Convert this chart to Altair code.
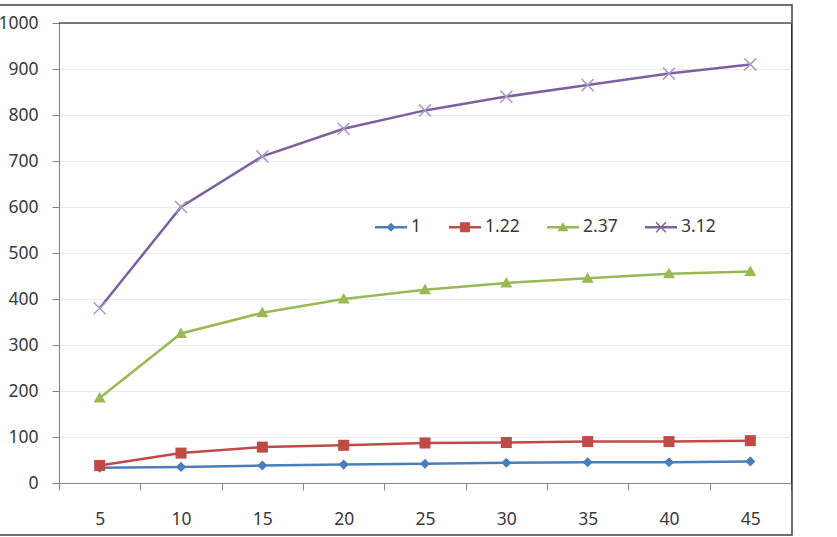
import altair as alt
import pandas as pd

x_vals = [5, 10, 15, 20, 25, 30, 35, 40, 45]
series_names = ["1", "1.22", "2.37", "3.12"]
s_1 = [33, 35, 38, 40, 42, 44, 45, 45, 47]
s_122 = [38, 65, 78, 82, 87, 88, 90, 90, 92]
s_237 = [185, 325, 370, 400, 420, 435, 445, 455, 460]
s_312 = [380, 600, 710, 770, 810, 840, 865, 890, 910]
y_ticks = list(range(0, 1001, 100))

line_colors = ["#4A7EBB", "#BE4B48", "#98B954", "#7D60A0"]
marker_colors = ["#4A7EBB", "#BE4B48", "#98B954", "#A99BC4"]

# marker glyphs (unit paths)
marker_paths = [
    "M0,-0.42L0.42,0L0,0.42L-0.42,0Z",
    "M-0.46,-0.46H0.46V0.46H-0.46Z",
    "M0,-0.5L0.5,0.38H-0.5Z",
    "M-0.456,-0.544L0.544,0.456L0.456,0.544L-0.544,-0.456Z"
    "M0.544,-0.456L-0.456,0.544L-0.544,0.456L0.456,-0.544Z",
]
LINE = "M-1,-0.075H1V0.075H-1Z"
legend_paths = [
    LINE + "M0,-0.28L0.28,0L0,0.28L-0.28,0Z",
    LINE + "M-0.31,-0.31H0.31V0.31H-0.31Z",
    LINE + "M0,-0.33L0.34,0.25H-0.34Z",
    LINE + "M-0.279,-0.341L0.341,0.279L0.279,0.341L-0.341,-0.279Z"
    "M0.341,-0.279L-0.279,0.341L-0.341,0.279L0.279,-0.341Z",
]

rows = []
for name, vals in zip(series_names, [s_1, s_122, s_237, s_312]):
    for xv, v in zip(x_vals, vals):
        rows.append({"x": str(xv), "value": v, "series": name})
df = pd.DataFrame(rows)

FONT = "Noto Sans"
TXT = "#3a3a3a"
FS = 17.5

x_enc = alt.X(
    "x:N",
    sort=[str(v) for v in x_vals],
    scale=alt.Scale(paddingInner=0, paddingOuter=0),
    axis=alt.Axis(
        title=None, labelAngle=0, tickBand="extent", grid=False,
        domainColor="#868686", tickColor="#868686", tickSize=7,
        labelPadding=20, labelFontSize=FS, labelFont=FONT, labelColor=TXT,
    ),
)
y_enc = alt.Y(
    "value:Q",
    scale=alt.Scale(domain=[0, 1000], nice=False),
    axis=alt.Axis(
        title=None, values=y_ticks, format="d", grid=True, gridColor="#EAEAEA",
        domainColor="#5B87C8", tickColor="#868686", tickSize=7,
        labelPadding=14, labelFontSize=FS, labelFont=FONT, labelColor=TXT,
    ),
)

frame = alt.Chart(pd.DataFrame({"f": [0]})).mark_rect(
    fill=None, stroke="#404040", strokeWidth=1.5
).encode(
    x=alt.value(-75), x2=alt.value(733), y=alt.value(-18), y2=alt.value(512)
)
top_edge = alt.Chart(pd.DataFrame({"f": [0]})).mark_rule(
    color="black", strokeWidth=1.2
).encode(x=alt.value(0), x2=alt.value(732), y=alt.value(0))

lines = alt.Chart(df).mark_line(strokeWidth=2.5).encode(
    x=x_enc, y=y_enc,
    color=alt.Color("series:N", scale=alt.Scale(domain=series_names, range=line_colors),
                    legend=None),
)

points = alt.Chart(df).mark_point(filled=True, opacity=1, size=576, strokeWidth=0).encode(
    x=x_enc, y=y_enc,
    fill=alt.Fill("series:N", scale=alt.Scale(domain=series_names, range=marker_colors),
                  legend=None),
    shape=alt.Shape("series:N", scale=alt.Scale(domain=series_names, range=marker_paths),
                    legend=None),
)

leg_kwargs = dict(
    title=None, orient="none", legendX=316, legendY=188, direction="horizontal",
    symbolSize=1024, symbolStrokeWidth=0, symbolOpacity=1,
    labelFontSize=FS, labelFont=FONT, labelColor=TXT, labelOffset=4,
    columnPadding=27, padding=0,
)
legend_layer = alt.Chart(df).mark_point(filled=True, opacity=0, size=1024).encode(
    x=x_enc, y=y_enc,
    color=alt.Color("series:N", scale=alt.Scale(domain=series_names, range=line_colors),
                    legend=alt.Legend(**leg_kwargs)),
    shape=alt.Shape("series:N", scale=alt.Scale(domain=series_names, range=legend_paths),
                    legend=alt.Legend(**leg_kwargs)),
)

chart = alt.layer(frame, lines, points, legend_layer, top_edge).resolve_scale(
    shape="independent", color="independent"
).properties(
    width=732, height=460,
    autosize=alt.AutoSizeParams(type="none"),
    padding={"left": 59, "top": 23, "right": 46, "bottom": 54},
    background="white",
).configure_view(stroke="black", strokeWidth=1)

chart.save("out.html", embed_options={"renderer": "svg", "actions": False})
